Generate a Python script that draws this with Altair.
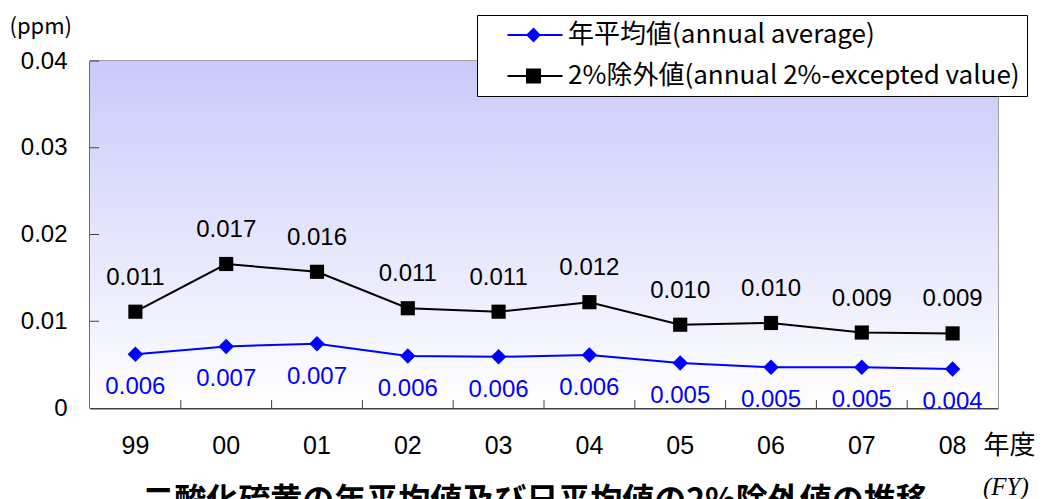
import altair as alt
import pandas as pd

# ---- data ----
years = ["99", "00", "01", "02", "03", "04", "05", "06", "07", "08"]
annual_avg = [0.0062, 0.0071, 0.0074, 0.0060, 0.0059, 0.0061, 0.0052, 0.0047, 0.0047, 0.0045]
annual_avg_labels = ["0.006", "0.007", "0.007", "0.006", "0.006", "0.006", "0.005", "0.005", "0.005", "0.004"]
excepted_2pct = [0.0111, 0.0166, 0.0157, 0.0115, 0.0111, 0.0122, 0.0096, 0.0098, 0.0087, 0.0086]
excepted_2pct_labels = ["0.011", "0.017", "0.016", "0.011", "0.011", "0.012", "0.010", "0.010", "0.009", "0.009"]
y_ticks = [0.0, 0.01, 0.02, 0.03, 0.04]
series_names = ["年平均値(annual average)", "2%除外値(annual 2%-excepted value)"]
series_colors = ["#0000ff", "#000000"]
chart_title = "二酸化硫黄の年平均値及び日平均値の2%除外値の推移"

W, H = 908, 347

avg_df = pd.DataFrame({"year": years, "value": annual_avg, "label": annual_avg_labels,
                       "series": series_names[0]})
exc_df = pd.DataFrame({"year": years, "value": excepted_2pct, "label": excepted_2pct_labels,
                       "series": series_names[1]})
all_df = pd.concat([avg_df, exc_df], ignore_index=True)
ytick_df = pd.DataFrame({"value": y_ticks[1:]})
xtick_df = pd.DataFrame({"year": years[:-1]})
one_df = pd.DataFrame({"a": [0]})

# ---- legend symbols: line + marker drawn as stroke-only paths ----
def diamond_symbol(c=-0.15):
    p = "M-2.75,0H2.75"
    for h in [0.6, 0.4, 0.2]:
        p += f"M{c-h:.2f},0L{c:.2f},{-h:.2f}L{c+h:.2f},0L{c:.2f},{h:.2f}Z"
    return p

def square_symbol(c=-0.15):
    p = "M-2.75,0H2.75"
    for a in [0.65, 0.45, 0.25, 0.05]:
        p += f"M{c-a:.2f},{-a:.2f}H{c+a:.2f}V{a:.2f}H{c-a:.2f}Z"
    return p

x_axis = alt.Axis(
    title="年度", labelAngle=0, labelFont="Liberation Sans", labelFontSize=25,
    labelColor="black", labelPadding=37, labelBaseline="middle", ticks=False, tickSize=0,
    domainColor="#404040", domainWidth=2, grid=False,
    titleFont="Noto Sans CJK JP", titleFontSize=26, titleFontWeight="normal", titleColor="black",
    titleX=893, titleY=37, titleAlign="left", titleBaseline="middle",
)
y_axis = alt.Axis(
    title="(ppm)", values=y_ticks, labelExpr="datum.value == 0 ? '0' : format(datum.value, '.2f')",
    labelFont="Liberation Sans", labelFontSize=24, labelColor="black", labelPadding=23,
    ticks=False, tickSize=0, grid=False, domainColor="#404040", domainWidth=2,
    titleFont="Noto Sans CJK JP", titleFontSize=22, titleFontWeight="normal", titleColor="black",
    titleAngle=0, titleX=-81, titleY=-35, titleAlign="left", titleBaseline="middle",
)
x_scale = alt.Scale(domain=years, type="band", paddingInner=0, paddingOuter=0)
y_scale = alt.Scale(domain=[0, 0.04], nice=False, zero=True)

x_enc = alt.X("year:N", scale=x_scale, axis=x_axis)
y_enc = alt.Y("value:Q", scale=y_scale, axis=y_axis)

legend = alt.Legend(
    orient="none", legendX=387, legendY=-46, title=None,
    fillColor="white", strokeColor="black", padding=7,
    labelFont="Noto Sans CJK JP", labelFontSize=26, labelColor="black", labelLimit=900,
    symbolSize=400, symbolStrokeWidth=2, symbolOffset=38, labelOffset=20, rowPadding=15,
    direction="vertical",
)

legend_layer = alt.Chart(all_df).mark_point(filled=False, opacity=1, strokeWidth=2, size=400).encode(
    x=x_enc, y=y_enc,
    color=alt.Color("series:N", scale=alt.Scale(domain=series_names, range=series_colors), legend=legend),
    shape=alt.Shape("series:N", scale=alt.Scale(domain=series_names,
                                                range=[diamond_symbol(), square_symbol()]), legend=legend),
)

gradient = alt.LinearGradient(
    gradient="linear",
    stops=[alt.GradientStop(color="#c9c9fa", offset=0), alt.GradientStop(color="#ffffff", offset=1)],
    x1=0, x2=0, y1=0, y2=1,
)
bg = alt.Chart(one_df).mark_rect(fill=gradient).encode(
    x=alt.value(0), x2=alt.value(W), y=alt.value(0), y2=alt.value(H)
)

ytick_layer = alt.Chart(ytick_df).mark_rule(color="#404040", strokeWidth=1).encode(
    y=y_enc, x=alt.value(0), x2=alt.value(9)
)
xtick_layer = alt.Chart(xtick_df).mark_rule(color="#404040", strokeWidth=1).encode(
    x=alt.X("year:N", scale=x_scale, bandPosition=1, axis=x_axis), y=alt.value(H - 8), y2=alt.value(H)
)

def series_layers(df, color, shape, size, dy):
    line = alt.Chart(df).mark_line(color=color, strokeWidth=2).encode(x=x_enc, y=y_enc)
    pts = alt.Chart(df).mark_point(filled=True, shape=shape, size=size, color=color, opacity=1).encode(
        x=x_enc, y=y_enc)
    txt = alt.Chart(df).mark_text(color=color, font="Liberation Sans", fontSize=24, dy=dy).encode(
        x=x_enc, y=y_enc, text="label:N")
    return [line, pts, txt]

fy = alt.Chart(one_df).mark_text(text="(FY)", font="Liberation Serif", fontStyle="italic",
                                 fontSize=25, align="left", baseline="middle", color="black").encode(
    x=alt.value(893), y=alt.value(426)
)

chart = alt.layer(
    legend_layer, bg, ytick_layer, xtick_layer,
    *series_layers(exc_df, series_colors[1], "square", 200, -34),
    *series_layers(avg_df, series_colors[0], "diamond", 240, 33),
    fy,
).properties(
    width=W, height=H,
    title=alt.Title(chart_title, orient="bottom", anchor="middle", font="Noto Sans CJK JP",
                    fontSize=32, fontWeight="bold", color="black", offset=-14, dx=-9),
    autosize=alt.AutoSizeParams(type="none"),
    padding={"left": 82, "top": 53, "right": 37, "bottom": 140},
).configure_view(
    stroke="#808080", strokeWidth=1.5
)

chart.save("out.html", embed_options={"renderer": "svg", "actions": False})
